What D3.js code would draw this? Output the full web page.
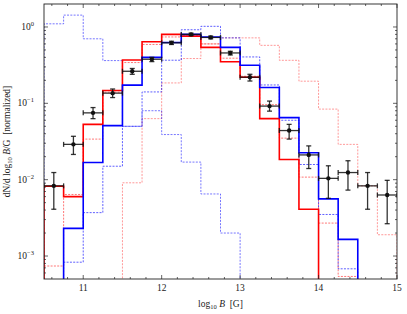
<!DOCTYPE html>
<html>
<head>
<meta charset="utf-8">
<script src="https://cdn.jsdelivr.net/npm/d3@7"></script>
<style>
  body { margin: 0; background: #fff; }
  text { font-family: "Liberation Serif", "DejaVu Serif", serif; fill: #222; }
</style>
</head>
<body>
<svg id="chart" width="407" height="314"></svg>
<script>
// bin edges of log10 B
const binEdges = [10.5, 10.75, 11.0, 11.25, 11.5, 11.75, 12.0, 12.25, 12.5, 12.75,
                  13.0, 13.25, 13.5, 13.75, 14.0, 14.25, 14.5, 14.75, 15.0];

// histograms (0 = empty bin)
const redSolid  = [0.0082, 0.006, 0.053, 0.147, 0.37, 0.64, 0.80, 0.76, 0.54, 0.35,
                   0.22, 0.063, 0.0184, 0.0041, 0, 0, 0, 0];
const blueSolid = [0, 0.0023, 0.0168, 0.051, 0.173, 0.40, 0.625, 0.80, 0.74, 0.54,
                   0.315, 0.161, 0.065, 0.0225, 0.0056, 0.00165, 0, 0];
const blueDashLow  = [1.1, 1.43, 0.70, 0.363, 0.05, 0.08, 0.039, 0.017, 0.0065, 0.002,
                      0, 0, 0, 0, 0, 0, 0, 0];
const blueDashMid  = [0, 0.00083, 0.0037, 0.015, 0.05, 0.141, 0.367, 0.92, 1.02, 0.72,
                      0.405, 0.174, 0.06, 0.0158, 0.0035, 0.00068, 0, 0];
const redDashMid   = [0.00074, 0.0064, 0.034, 0.14, 0.342, 0.59, 0.74, 0.78, 0.6, 0.39,
                      0.226, 0.096, 0.035, 0.0108, 0.0027, 0.00054, 0, 0];
const redDashHigh  = [0, 0, 0, 0, 0.0091, 0.063, 0.185, 0.386, 0.6, 0.72,
                      0.72, 0.575, 0.366, 0.195, 0.084, 0.029, 0.0083, 0.0019];

// observed points with error bars
const obsVal = [0.0083, 0.029, 0.075, 0.136, 0.263, 0.378, 0.62, 0.80, 0.73, 0.457,
                0.22, 0.092, 0.044, 0.0211, 0.0104, 0.0124, 0.0083, 0.0063];
const obsLo  = [0.0041, 0.0214, 0.063, 0.119, 0.24, 0.352, 0.59, 0.77, 0.70, 0.43,
                0.196, 0.079, 0.034, 0.014, 0.0057, 0.0073, 0.0041, 0.00265];
const obsHi  = [0.0124, 0.037, 0.088, 0.154, 0.286, 0.40, 0.65, 0.83, 0.76, 0.48,
                0.24, 0.107, 0.053, 0.0277, 0.0152, 0.0177, 0.0124, 0.0098];

const xTicks = [11, 12, 13, 14, 15];
const yTicks = [1e-3, 1e-2, 1e-1, 1];
const yTickExp = ["\u22123", "\u22122", "\u22121", "0"];

const margin = { top: 4, right: 10, bottom: 35, left: 44 };
const width = 407 - margin.left - margin.right;
const height = 314 - margin.top - margin.bottom;

const svg = d3.select("#chart");
const g = svg.append("g").attr("transform", `translate(${margin.left},${margin.top})`);

const x = d3.scaleLinear().domain([10.5, 15]).range([0, width]);
const y = d3.scaleLog().domain([5e-4, 2]).range([height, 0]);

svg.append("defs").append("clipPath").attr("id", "clip")
  .append("rect").attr("width", width).attr("height", height);

const plot = g.append("g").attr("clip-path", "url(#clip)");

// step outline of a histogram
function stepPath(vals) {
  const yv = v => v > 0 ? y(v) : height + 20;
  let pts = [[x(binEdges[0]), height + 20]];
  vals.forEach((v, i) => {
    pts.push([x(binEdges[i]), yv(v)]);
    pts.push([x(binEdges[i + 1]), yv(v)]);
  });
  pts.push([x(binEdges[binEdges.length - 1]), height + 20]);
  return d3.line()(pts);
}

const series = [
  { vals: redDashHigh, color: "#ff0000", w: 0.9, dash: "2,1.3", op: 0.45 },
  { vals: redDashMid,  color: "#ff0000", w: 0.9, dash: "2,1.3", op: 0.6 },
  { vals: blueDashLow, color: "#0000ff", w: 0.9, dash: "2,1.3", op: 0.6 },
  { vals: blueDashMid, color: "#0000ff", w: 0.9, dash: "2,1.3", op: 0.7 },
  { vals: redSolid,    color: "#ff0000", w: 1.6, dash: null, op: 1 },
  { vals: blueSolid,   color: "#0000ff", w: 1.6, dash: null, op: 1 },
];

plot.selectAll("path.hist")
  .data(series)
  .enter()
  .append("path")
  .attr("class", "hist")
  .attr("d", d => stepPath(d.vals))
  .attr("fill", "none")
  .attr("stroke", d => d.color)
  .attr("stroke-width", d => d.w)
  .attr("stroke-dasharray", d => d.dash)
  .attr("stroke-opacity", d => d.op);

// error bars
const obs = obsVal.map((v, i) => ({
  x0: binEdges[i], x1: binEdges[i + 1], xc: (binEdges[i] + binEdges[i + 1]) / 2,
  v: v, lo: obsLo[i], hi: obsHi[i]
}));

const eb = plot.append("g").attr("stroke", "#111").attr("stroke-width", 1.3).attr("stroke-opacity", 0.85);
eb.selectAll("line.xe").data(obs).enter().append("line")
  .attr("x1", d => x(d.x0)).attr("x2", d => x(d.x1))
  .attr("y1", d => y(d.v)).attr("y2", d => y(d.v));
eb.selectAll("line.ye").data(obs).enter().append("line")
  .attr("x1", d => x(d.xc)).attr("x2", d => x(d.xc))
  .attr("y1", d => y(d.lo)).attr("y2", d => y(d.hi));
["lo", "hi"].forEach(k => {
  eb.selectAll("line.cap" + k).data(obs).enter().append("line")
    .attr("x1", d => x(d.xc) - 2.5).attr("x2", d => x(d.xc) + 2.5)
    .attr("y1", d => y(d[k])).attr("y2", d => y(d[k]));
});
eb.selectAll("line.xcap").data(obs).enter().append("line")
  .attr("x1", d => x(d.x0)).attr("x2", d => x(d.x0))
  .attr("y1", d => y(d.v) - 2.5).attr("y2", d => y(d.v) + 2.5);
eb.selectAll("line.xcap2").data(obs).enter().append("line")
  .attr("x1", d => x(d.x1)).attr("x2", d => x(d.x1))
  .attr("y1", d => y(d.v) - 2.5).attr("y2", d => y(d.v) + 2.5);
plot.selectAll("circle.pt").data(obs).enter().append("circle")
  .attr("cx", d => x(d.xc)).attr("cy", d => y(d.v)).attr("r", 2.2)
  .attr("fill", "#111");

// ticks, inward on all four sides
const ax = g.append("g").attr("stroke", "#222").attr("stroke-width", 0.7);
const xMinor = d3.range(10.6, 15, 0.2).filter(t => !xTicks.some(m => Math.abs(m - t) < 1e-6));
function xTick(t, len) {
  ax.append("line").attr("x1", x(t)).attr("x2", x(t)).attr("y1", height).attr("y2", height - len);
  ax.append("line").attr("x1", x(t)).attr("x2", x(t)).attr("y1", 0).attr("y2", len);
}
xTicks.forEach(t => xTick(t, 4));
xMinor.forEach(t => xTick(t, 2));

const yMinor = y.ticks().filter(t => !yTicks.some(m => Math.abs(m - t) / m < 1e-6) && t > 5e-4 && t < 2);
function yTick(t, len) {
  ax.append("line").attr("y1", y(t)).attr("y2", y(t)).attr("x1", 0).attr("x2", len);
  ax.append("line").attr("y1", y(t)).attr("y2", y(t)).attr("x1", width).attr("x2", width - len);
}
yTicks.forEach(t => yTick(t, 4));
yMinor.forEach(t => yTick(t, 2));

g.append("rect").attr("width", width).attr("height", height)
  .attr("fill", "none").attr("stroke", "#222").attr("stroke-width", 0.9);

// tick labels
g.selectAll("text.xl").data(xTicks).enter().append("text")
  .attr("x", d => x(d)).attr("y", height + 12)
  .attr("text-anchor", "middle").attr("font-size", 9.5)
  .text(d => d);

yTicks.forEach((t, i) => {
  const txt = g.append("text").attr("x", -10).attr("y", y(t) + 3)
    .attr("text-anchor", "end").attr("font-size", 9.5);
  txt.append("tspan").text("10");
  txt.append("tspan").attr("dy", -4).attr("font-size", 6.5).text(yTickExp[i]);
});

// axis titles
const xl = g.append("text").attr("x", width / 2).attr("y", height + 28)
  .attr("text-anchor", "middle").attr("font-size", 9.5);
xl.append("tspan").text("log");
xl.append("tspan").attr("dy", 2).attr("font-size", 6.5).text("10");
xl.append("tspan").attr("dy", -2).attr("font-style", "italic").text(" B");
xl.append("tspan").text("\u2002[G]");

const yl = g.append("text")
  .attr("transform", `translate(${-margin.left + 10},${height / 2}) rotate(-90)`)
  .attr("text-anchor", "middle").attr("font-size", 9.5);
yl.append("tspan").text("dN/d log");
yl.append("tspan").attr("dy", 2).attr("font-size", 6.5).text("10");
yl.append("tspan").attr("dy", -2).attr("font-style", "italic").text(" B");
yl.append("tspan").text("/G\u2002[normalized]");
</script>
</body>
</html>
